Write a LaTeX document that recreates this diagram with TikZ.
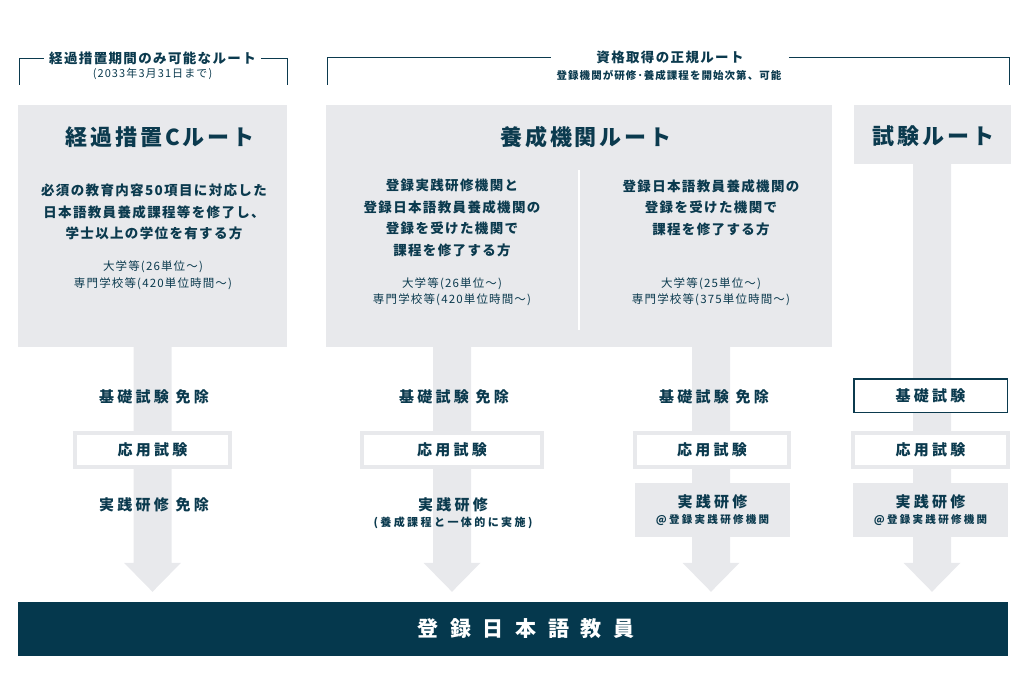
\documentclass[tikz,border=0pt]{standalone}
\usepackage{fontspec}
\setmainfont{Noto Sans CJK JP}
\newfontfamily\jpbody{Noto Sans CJK JP}[LetterSpace=10]
\newfontfamily\jptitle{Noto Sans CJK JP}[LetterSpace=13]
\newfontfamily\jplabel{Noto Sans CJK JP}[LetterSpace=22]
\newfontfamily\jpbar{Noto Sans CJK JP}[LetterSpace=55]
\usetikzlibrary{calc}

\definecolor{ink}{HTML}{0B3A4E}
\definecolor{barblue}{HTML}{05384D}
\definecolor{boxgray}{HTML}{E8E9EC}

\tikzset{%
  % Specifications for style of nodes:
  routebox/.style    = { fill=boxgray, inner sep=0pt },
  routetitle/.style  = { font=\jptitle\bfseries\fontsize{22}{26}\selectfont, text=ink, inner sep=0pt },
  bodytext/.style    = { font=\jpbody\bfseries\fontsize{13.5}{21.5}\selectfont, text=ink, align=center, inner sep=0pt },
  notetext/.style    = { font=\jpbody\fontsize{11.5}{16.5}\selectfont, text=ink, align=center, inner sep=0pt },
  headtitle/.style   = { font=\jpbody\bfseries\fontsize{13.5}{16}\selectfont, text=ink, inner ysep=0pt, inner xsep=5pt },
  headnote/.style    = { font=\jpbody\fontsize{11}{13}\selectfont, text=ink, inner sep=0pt },
  steplabel/.style   = { font=\jplabel\bfseries\fontsize{15}{15.5}\selectfont, text=ink, align=center, inner sep=0pt },
  testbox/.style     = { steplabel, draw=boxgray, line width=4pt, fill=white, minimum width=155pt, minimum height=34pt },
  kisobox/.style     = { steplabel, draw=ink, line width=1.5pt, fill=white, minimum width=153.5pt, minimum height=33.5pt },
  practicebox/.style = { steplabel, fill=boxgray, minimum width=155pt, minimum height=54pt },
  bracket/.style     = { draw=ink, line width=0.8pt },
}

% block arrow: shaft from #1 down to tip #2
\newcommand{\flowarrow}[2]{%
  \fill[boxgray] ($(#1)+(-19,0)$) -- ($(#2)+(-19,-29)$) -- ($(#2)+(-28.5,-29)$) -- (#2)
    -- ($(#2)+(28.5,-29)$) -- ($(#2)+(19,-29)$) -- ($(#1)+(19,0)$) -- cycle;}

\begin{document}
\begin{tikzpicture}[x=1pt, y=-1pt]
    \useasboundingbox (0,0) rectangle (1024,684);

    % Draw headers
    \node (hdrL)    [headtitle]                  at (152.5,58) {経過措置期間のみ可能なルート};
    \node (hdrLsub) [headnote]                   at (152.5,74) {(2033年3月31日まで)};
    \node (hdrR)    [headtitle, inner xsep=45pt] at (670,57)   {資格取得の正規ルート};
    \node (hdrRsub) [headnote, font=\jpbody\bfseries\fontsize{10.5}{13}\selectfont] at (669,75) {登録機関が研修･養成課程を開始次第、可能};
    \draw[bracket] (19,85) |- (hdrL.west);
    \draw[bracket] (hdrL.east) -| (287,85);
    \draw[bracket] (327,85) |- (hdrR.west);
    \draw[bracket] (hdrR.east) -| (1009,85);

    % Draw route boxes
    \node (kei)    [routebox, minimum width=269pt, minimum height=242pt] at (152.5,226) {};
    \node (yousei) [routebox, minimum width=506pt, minimum height=242pt] at (579,226)   {};
    \node (shiken) [routebox, minimum width=157pt, minimum height=59pt]  at (932,134.5) {};
    \node (bar)    [fill=barblue, inner sep=0pt, minimum width=990pt, minimum height=54pt] at (513,629) {};

    \node (keiT)    [routetitle] at (160,137)   {経過措置Cルート};
    \node (youseiT) [routetitle] at (586,137)   {養成機関ルート};
    \node (shikenT) [routetitle] at (933.5,136) {試験ルート};

    \node (keiB)   [bodytext] at (154,212)   {必須の教育内容50項目に対応した\\日本語教員養成課程等を修了し、\\学士以上の学位を有する方};
    \node (keiN)   [notetext] at (153,275.5) {大学等(26単位～)\\専門学校等(420単位時間～)};
    \node (colA)   [bodytext] at (452,218)   {登録実践研修機関と\\登録日本語教員養成機関の\\登録を受けた機関で\\課程を修了する方};
    \node (colAN)  [notetext] at (452,292)   {大学等(26単位～)\\専門学校等(420単位時間～)};
    \node (colB)   [bodytext] at (711,207.5) {登録日本語教員養成機関の\\登録を受けた機関で\\課程を修了する方};
    \node (colBN)  [notetext] at (711,292)   {大学等(25単位～)\\専門学校等(375単位時間～)};
    \draw[white, line width=1.5pt] ($(yousei.north)+(0,65)$) -- ($(yousei.south)+(0,-17)$);

    % Draw arrows
    \coordinate (startA) at (yousei.south -| colA);
    \coordinate (startB) at (yousei.south -| colB);
    \path (kei.south |- bar.north) ++(0,-10) coordinate (tipK);
    \path (startA |- bar.north) ++(0,-10) coordinate (tipA);
    \path (startB |- bar.north) ++(0,-10) coordinate (tipB);
    \path (shiken.south |- bar.north) ++(0,-10) coordinate (tipC);
    \flowarrow{kei.south}{tipK}
    \flowarrow{startA}{tipA}
    \flowarrow{startB}{tipB}
    \flowarrow{shiken.south}{tipC}

    % Draw steps
    \node (kisoK)   [steplabel] at (154,397) {基礎試験 免除};
    \node (ouyouK)  [testbox]   at (152.5,450) {応用試験};
    \node (jissenK) [steplabel] at (154,505) {実践研修 免除};

    \node (kisoA)   [steplabel] at (454,397) {基礎試験 免除};
    \node (ouyouA)  [testbox, minimum width=180pt] at (452,450) {応用試験};
    \node (jissenA) [steplabel] at (453,513) {実践研修\\{\fontsize{11}{15.5}\selectfont (養成課程と一体的に実施)}};

    \node (kisoB)   [steplabel] at (714,397) {基礎試験 免除};
    \node (ouyouB)  [testbox, minimum width=154pt] at (712,450) {応用試験};
    \node (jissenB) [practicebox] at (712.5,510) {実践研修\\{\fontsize{10.5}{15.5}\selectfont @登録実践研修機関}};

    \node (kisoC)   [kisobox]     at (930.5,395.5) {基礎試験};
    \node (ouyouC)  [testbox]     at (930.5,450)   {応用試験};
    \node (jissenC) [practicebox] at (930.5,510)   {実践研修\\{\fontsize{10.5}{15.5}\selectfont @登録実践研修機関}};

    \node (barT) [font=\jpbar\bfseries\fontsize{21}{24}\selectfont, text=white] at (526,629) {登録日本語教員};
\end{tikzpicture}
\end{document}
